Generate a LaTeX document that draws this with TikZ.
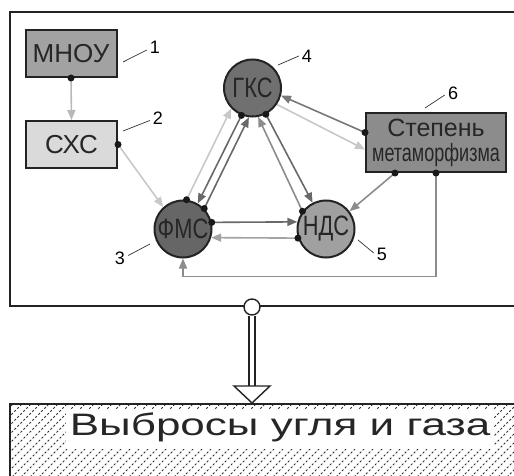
\documentclass[tikz,border=0pt]{standalone}
\usepackage{fontspec}
\setmainfont{Liberation Sans}
\newfontfamily\narrowfont[FakeStretch=0.78]{Liberation Sans}
\newfontfamily\condfont[FakeStretch=0.72]{Liberation Sans}
\newfontfamily\widefont[FakeStretch=1.42]{Liberation Sans}
\usetikzlibrary{arrows.meta,calc}

\definecolor{cFrame}{RGB}{35,35,35}
\definecolor{cDark}{RGB}{105,105,105}
\definecolor{cMid}{RGB}{140,140,140}
\definecolor{cLight}{RGB}{200,200,200}
\definecolor{cPale}{RGB}{185,185,185}
\definecolor{fMnou}{RGB}{162,162,162}
\definecolor{fSxs}{RGB}{218,218,218}
\definecolor{fGks}{RGB}{112,112,112}
\definecolor{fFms}{RGB}{102,102,102}
\definecolor{fNds}{RGB}{160,160,160}
\definecolor{fDeg}{RGB}{140,140,140}
\definecolor{cHatch}{RGB}{50,50,50}

\tikzset{
  rectbox/.style={draw=cFrame, line width=2pt, inner sep=0pt,
    font=\fontsize{26}{28}\selectfont, text=black!85},
  roundbox/.style={circle, draw=cFrame, line width=2pt, inner sep=0pt,
    minimum size=57pt, font=\narrowfont\fontsize{28}{30}\selectfont, text=black!85},
  conn/.style={line width=1.6pt, -{Triangle[length=10pt,width=8pt]}},
  leader/.style={line width=0.7pt, black!80},
  numlabel/.style={inner sep=0pt, font=\fontsize{18}{20}\selectfont},
}
\newcommand{\startdot}[1]{\fill[black!90] (#1) circle (3.5);}

\begin{document}
\begin{tikzpicture}[x=1pt,y=-1pt]
\useasboundingbox (0,0) rectangle (514,476);

% outer frame of the system (open to the right edge)
\begin{scope}
  \clip (0,0) rectangle (514,476);
  \draw[cFrame, line width=2.5pt] (10,12) rectangle (540,306);
\end{scope}

% boxes
\node[rectbox, fill=fMnou, minimum width=91pt, minimum height=47pt] (mnou) at (71,53.5) {МНОУ};
\node[rectbox, fill=fSxs, minimum width=91pt, minimum height=47pt] (sxs) at (71.5,144.5) {СХС};
\node[rectbox, fill=fDeg, minimum width=140pt, minimum height=59pt, align=center]
  (deg) at (436,142.5)
  {\fontsize{25}{24}\selectfont Степень\\[-3pt]\condfont\fontsize{25}{24}\selectfont метаморфизма};

% circles
\node[roundbox, fill=fGks] (gks) at (252.5,88) {ГКС};
\node[roundbox, fill=fFms] (fms) at (183,229) {ФМС};
\node[roundbox, fill=fNds] (nds) at (326,229) {НДС};

% attachment points on the metamorphism box
\coordinate (d1) at ($(deg.west)+(0,-10)$);
\coordinate (d2) at ($(deg.west)+(0,7)$);
\coordinate (d3) at ($(deg.south west)+(30,0)$);
\coordinate (d4) at ($(deg.south west)+(71,0)$);
\coordinate (loop) at ($(fms.south)+(0,18)$);

% connectors
\draw[conn, cPale] (mnou.south) -- (sxs.north);
\draw[conn, cLight] (sxs.east) -- (fms.132);
\draw[conn, cLight] (fms.83) -- (gks.224);
\draw[conn, cDark] (gks.248) -- (fms.60);
\draw[conn, cDark] (fms.44) -- (gks.263);
\draw[conn, cDark] (gks.-63) -- (nds.117);
\draw[conn, cMid] (nds.143) -- (gks.-79);
\draw[conn, cDark] (fms.13.5) -- (nds.166.5);
\draw[conn, cMid!80!white] (nds.-162.5) -- (fms.-17.5);
\draw[conn, cDark!90!white] (d1) -- (gks.-15);
\draw[conn, cLight] (gks.-34) -- (d2);
\draw[conn, cMid] (d3) -- (nds.37);
\draw[conn, cMid] (d4) |- (loop) -- (fms.south);

% start dots
\startdot{mnou.south}
\startdot{sxs.east}
\startdot{fms.83}
\startdot{gks.248}
\startdot{fms.44}
\startdot{gks.-63}
\startdot{nds.143}
\startdot{fms.13.5}
\startdot{nds.-162.5}
\startdot{d1}
\startdot{d3}
\startdot{d4}

% numbered leaders
\node[numlabel] (n1) at (155,47) {1};
\node[numlabel] (n2) at (158,118.5) {2};
\node[numlabel] (n3) at (120,258.5) {3};
\node[numlabel] (n4) at (307,56) {4};
\node[numlabel] (n5) at (382,254) {5};
\node[numlabel] (n6) at (453,93) {6};
\coordinate (p1) at (123,62);
\coordinate (p2) at (123,131);
\coordinate (p3) at (150,244);
\coordinate (p4) at (278,65);
\coordinate (p5) at (358,240);
\coordinate (p6) at (425,108);
\draw[leader] (p1) -- ($(n1.west)+(-3,3)$);
\draw[leader] (p2) -- ($(n2.west)+(-3,2)$);
\draw[leader] (p3) -- ($(n3.east)+(3,-3)$);
\draw[leader] (p4) -- ($(n4.west)+(-3,0)$);
\draw[leader] (p5) -- ($(n5.west)+(-3,-1)$);
\draw[leader] (p6) -- ($(n6.west)+(-3,2)$);

% output: link to the outburst box
\node[circle, draw=cFrame, fill=white, line width=1.4pt, minimum size=16pt, inner sep=0pt]
  (joint) at (252,307) {};
\coordinate (tip) at (252,386);
\draw[cFrame, line width=1.3pt, double=white, double distance=4.5pt] (joint.south) -- (tip);
\draw[cFrame, line width=1.4pt, fill=white, line join=miter]
  ($(tip)+(-18,0)$) -- ($(tip)+(18,0)$) -- ($(tip)+(0,17)$) -- cycle;

% hatched outburst box
\begin{scope}
  \clip (0,0) rectangle (514,476);
  \begin{scope}
    \clip (10,404) rectangle (540,490);
    \foreach \i in {-90,-81,...,540}
      \draw[cHatch, line width=0.9pt, dash pattern=on 2.2pt off 2pt] (\i,480) -- (\i+80,400);
  \end{scope}
  \draw[cFrame, line width=2.5pt] (10,404) rectangle (540,490);
\end{scope}
\node[anchor=base, fill=white, inner xsep=4pt, inner ysep=1.5pt, text height=24pt, text depth=12pt,
  font=\widefont\fontsize{31}{36}\selectfont, text=black!85] (out) at (280,435) {Выбросы угля и газа};
\end{tikzpicture}
\end{document}
